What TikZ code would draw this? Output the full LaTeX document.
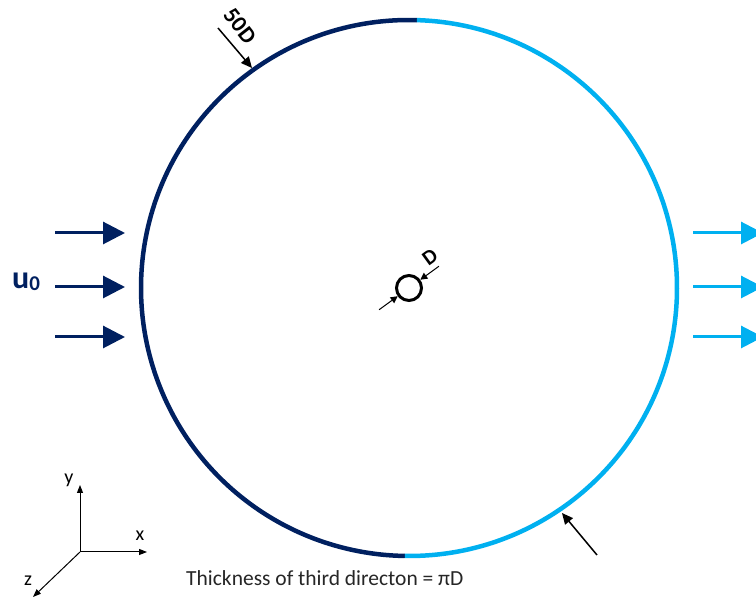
\documentclass[tikz,border=0pt]{standalone}
\usepackage{fontspec}
\setmainfont{Carlito}
\usetikzlibrary{arrows.meta}
\definecolor{navy}{HTML}{002060}
\definecolor{sky}{HTML}{00B0F0}
\definecolor{captext}{HTML}{262626}
\tikzset{
  flowarrow/.style={line width=3pt,-{Triangle[length=22pt,width=22pt]}},
  thinarrow/.style={line width=1.5pt,-{Triangle[length=11pt,width=10pt]}},
  tinyarrow/.style={line width=1pt,-{Triangle[length=7pt,width=7pt]}},
  axisarrow/.style={line width=1pt,-{Triangle[length=8pt,width=6pt]}},
  rim/.style={line width=4.5pt},
}
\begin{document}
\begin{tikzpicture}[x=1pt,y=1pt]
\useasboundingbox (0,0) rectangle (756,602);
\clip (0,0) rectangle (756,602);
% big domain circle
\coordinate (C) at (409,314);
\draw[rim,navy] ([shift={(88.3:268)}]C) arc[start angle=88.3,end angle=269.1,radius=268];
\draw[rim,sky] ([shift={(269.1:268)}]C) arc[start angle=269.1,end angle=448.3,radius=268];
% cylinder
\node (cyl) [circle,draw,line width=3pt,minimum size=25pt,inner sep=0pt] at (C) {};
\coordinate (dt1) at ([shift={(216:37)}]C);
\coordinate (dh1) at ([shift={(216:14)}]C);
\coordinate (dt2) at ([shift={(36:37)}]C);
\coordinate (dh2) at ([shift={(36:14)}]C);
\draw[tinyarrow] (dt1) -- (dh1);
\draw[tinyarrow] (dt2) -- (dh2);
\node (dlab) [rotate=36,font=\fontsize{21}{21}\selectfont\bfseries] at (430,345) {D};
% 50D marker
\coordinate (a1) at (218,574);
\coordinate (a2) at (252,534);
\draw[thinarrow] (a1) -- (a2);
\node (fiftyd) [rotate=-52,inner sep=0pt,font=\fontsize{23}{23}\selectfont\bfseries] at (240,576) {50D};
% lower right marker
\coordinate (b1) at (597,47);
\coordinate (b2) at (562,89);
\draw[thinarrow] (b1) -- (b2);
% inflow arrows
\foreach \yy/\nm in {369/i1,315/i2,265/i3}{
  \coordinate (\nm s) at (55,\yy);
  \coordinate (\nm e) at (125,\yy);
  \draw[flowarrow,navy] (\nm s) -- (\nm e);
}
\node (u0) [anchor=base west,text=navy,inner sep=0pt] at (12,313)
  {\fontsize{32}{32}\selectfont\bfseries u\raisebox{-1.5pt}{\fontsize{21}{21}\selectfont 0}};
% outflow arrows
\foreach \yy/\nm in {369/o1,315/o2,265/o3}{
  \coordinate (\nm s) at (693,\yy);
  \coordinate (\nm e) at (763,\yy);
  \draw[flowarrow,sky] (\nm s) -- (\nm e);
}
% axes
\coordinate (O) at (80,50);
\coordinate (Y) at (80,117);
\coordinate (X) at (147,50);
\coordinate (Z) at (33,5);
\draw[axisarrow] (O) -- (Y);
\draw[axisarrow] (O) -- (X);
\draw[axisarrow] (O) -- (Z);
\node (ylab) [font=\fontsize{20}{20}\selectfont] at (69,122) {y};
\node (xlab) [font=\fontsize{20}{20}\selectfont] at (140,66) {x};
\node (zlab) [font=\fontsize{20}{20}\selectfont] at (28,21) {z};
% caption
\node (cap) [anchor=west,inner sep=0pt,text=captext,font=\fontsize{21.5}{21.5}\selectfont] at (186,24)
  {Thickness of third directon = πD};
\end{tikzpicture}
\end{document}
